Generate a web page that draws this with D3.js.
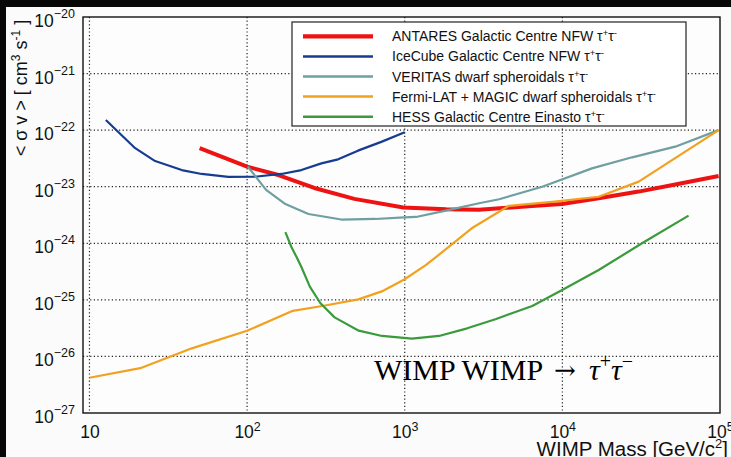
<!DOCTYPE html>
<html>
<head>
<meta charset="utf-8">
<script src="https://cdn.jsdelivr.net/npm/d3@7"></script>
<style>
  html, body { margin: 0; padding: 0; background: #070707; }
  svg { display: block; }
</style>
</head>
<body>
<svg id="chart" width="731" height="457"></svg>
<script>
// WIMP annihilation limits, tau+ tau- channel (mass in GeV, <σv> in cm^3 s^-1)
const antaresMass = [50, 100, 158, 267, 479, 980, 1830, 2960, 6420, 9930, 17000, 30500, 57100, 98000];
const antaresSv   = [4.8e-23, 2.26e-23, 1.61e-23, 9.5e-24, 6.1e-24, 4.3e-24, 4.0e-24, 3.9e-24, 4.56e-24, 4.94e-24, 6.24e-24, 8.2e-24, 1.15e-23, 1.55e-23];

const icecubeMass = [12.7, 19.5, 26.1, 38.5, 51.5, 76, 112, 165, 221, 296, 378, 505, 710, 1000];
const icecubeSv   = [1.51e-22, 4.8e-23, 2.84e-23, 1.97e-23, 1.68e-23, 1.49e-23, 1.5e-23, 1.68e-23, 1.97e-23, 2.59e-23, 3.05e-23, 4.34e-23, 6.2e-23, 9.2e-23];

const veritasMass = [101, 132, 175, 245, 396, 650, 993, 1180, 1820, 2960, 3970, 7450, 15400, 27700, 52000, 98000];
const veritasSv   = [2.28e-23, 8.8e-24, 4.94e-24, 3.29e-24, 2.63e-24, 2.69e-24, 2.86e-24, 2.92e-24, 3.77e-24, 5.1e-24, 6.0e-24, 1.0e-23, 2.11e-23, 3.31e-23, 5.1e-23, 1.0e-22];

const fermiMass = [10, 21, 44.6, 100, 195, 300, 508, 715, 993, 1360, 1910, 2660, 4580, 8610, 17000, 30500, 98000];
const fermiSv   = [4.2e-27, 6.2e-27, 1.39e-26, 2.85e-26, 6.4e-26, 7.8e-26, 1.02e-25, 1.41e-25, 2.29e-25, 4.1e-25, 8.7e-25, 1.84e-24, 4.6e-24, 5.4e-24, 6.65e-24, 1.23e-23, 1.0e-22];

const hessMass = [175, 191, 206, 221, 250, 292, 359, 511, 718, 1110, 1650, 2490, 3800, 6440, 9970, 17000, 32000, 63200];
const hessSv   = [1.58e-24, 8.6e-25, 5.7e-25, 3.8e-25, 1.71e-25, 8.7e-26, 4.9e-26, 2.85e-26, 2.3e-26, 2.07e-26, 2.3e-26, 3.14e-26, 4.6e-26, 7.8e-26, 1.49e-25, 3.37e-25, 1.0e-24, 3.08e-24];

const seriesNames = [
  "ANTARES Galactic Centre NFW",
  "IceCube Galactic Centre NFW",
  "VERITAS dwarf spheroidals",
  "Fermi-LAT + MAGIC dwarf spheroidals",
  "HESS Galactic Centre Einasto"
];
const seriesColors = ["#ee1212", "#163c92", "#6f9fa0", "#f2a11e", "#3b9a3c"];
const seriesWidths = [4, 2.2, 2.2, 2.2, 2.2];

const xTickValues = [10, 100, 1000, 10000, 100000];
const xTickLabels = ["10", "10^2", "10^3", "10^4", "10^5"];
const yTickValues = [1e-27, 1e-26, 1e-25, 1e-24, 1e-23, 1e-22, 1e-21, 1e-20];
const yTickLabels = ["10^−27", "10^−26", "10^−25", "10^−24", "10^−23", "10^−22", "10^−21", "10^−20"];

const series = [
  d3.zip(antaresMass, antaresSv),
  d3.zip(icecubeMass, icecubeSv),
  d3.zip(veritasMass, veritasSv),
  d3.zip(fermiMass, fermiSv),
  d3.zip(hessMass, hessSv)
];

const plot = { left: 83, right: 720, top: 17, bottom: 413 };
const svg = d3.select("#chart");
const sans = "'Liberation Sans', Arial, Helvetica, sans-serif";
const serif = "'Liberation Serif', 'Times New Roman', serif";

const x = d3.scaleLog().domain([9.1, 1e5]).range([plot.left, plot.right]);
const y = d3.scaleLog().domain([1e-27, 1e-20]).range([plot.bottom, plot.top]);

// figure page (dark margin on the top and left edges)
svg.append("rect")
  .attr("x", 6).attr("y", 7).attr("width", 725).attr("height", 450)
  .attr("fill", "#fbfbfb");

// plot background
svg.append("rect")
  .attr("x", plot.left).attr("y", plot.top)
  .attr("width", plot.right - plot.left).attr("height", plot.bottom - plot.top)
  .attr("fill", "#fdfdfd");

// dotted decade grid
const grid = svg.append("g").attr("stroke", "#222").attr("stroke-width", 1.2)
  .attr("stroke-dasharray", "1.2,2.4");
grid.selectAll("line.gx").data(xTickValues.filter(v => x(v) < plot.right - 2))
  .join("line").attr("class", "gx")
  .attr("x1", d => x(d)).attr("x2", d => x(d))
  .attr("y1", plot.top).attr("y2", plot.bottom);
grid.selectAll("line.gy").data(yTickValues.filter(v => y(v) > plot.top + 2 && y(v) < plot.bottom - 2))
  .join("line").attr("class", "gy")
  .attr("x1", plot.left).attr("x2", plot.right)
  .attr("y1", d => y(d)).attr("y2", d => y(d));

// curves
svg.append("clipPath").attr("id", "clip").append("rect")
  .attr("x", plot.left).attr("y", plot.top)
  .attr("width", plot.right - plot.left).attr("height", plot.bottom - plot.top);

const line = d3.line().x(d => x(d[0])).y(d => y(d[1]));
svg.append("g").attr("clip-path", "url(#clip)")
  .selectAll("path").data(series).join("path")
  .attr("d", line)
  .attr("fill", "none")
  .attr("stroke", (d, i) => seriesColors[i])
  .attr("stroke-width", (d, i) => seriesWidths[i])
  .attr("stroke-linejoin", "round")
  .attr("stroke-linecap", "butt");

// frame
svg.append("rect")
  .attr("x", plot.left).attr("y", plot.top)
  .attr("width", plot.right - plot.left).attr("height", plot.bottom - plot.top)
  .attr("fill", "none").attr("stroke", "#111").attr("stroke-width", 1.4);

// power-of-ten label helper: "10^e" -> 10 with raised exponent
function powerLabel(sel, label, baseSize, expSize, rise) {
  const parts = label.split("^");
  sel.append("tspan").attr("font-size", baseSize).text(parts[0]);
  if (parts.length > 1) {
    sel.append("tspan").attr("font-size", expSize).attr("dy", -rise).text(parts[1]);
  }
}

// x axis
const xAxis = svg.append("g")
  .attr("transform", `translate(0,${plot.bottom})`)
  .call(d3.axisBottom(x).tickValues(xTickValues).tickSize(0).tickFormat(""));
xAxis.select(".domain").remove();
xAxis.selectAll(".tick").append("text")
  .attr("y", 25).attr("text-anchor", "middle")
  .attr("font-family", sans).attr("fill", "#111")
  .each(function(d, i) { powerLabel(d3.select(this), xTickLabels[i], 17.5, 12.5, 7); });

// y axis
const yAxis = svg.append("g")
  .attr("transform", `translate(${plot.left},0)`)
  .call(d3.axisLeft(y).tickValues(yTickValues).tickSize(0).tickFormat(""));
yAxis.select(".domain").remove();
yAxis.selectAll(".tick").append("text")
  .attr("x", -8).attr("y", 9.5).attr("text-anchor", "end")
  .attr("font-family", sans).attr("fill", "#111")
  .each(function(d, i) { powerLabel(d3.select(this), yTickLabels[i], 17.5, 12.5, 9); });

// axis titles
const xTitle = svg.append("text")
  .attr("x", 728).attr("y", 456).attr("text-anchor", "end")
  .attr("font-family", sans).attr("font-size", 20.5).attr("fill", "#111");
xTitle.append("tspan").text("WIMP Mass [GeV/c");
xTitle.append("tspan").attr("font-size", 13).attr("dy", -8).text("2");
xTitle.append("tspan").attr("dy", 8).text("]");

const yTitle = svg.append("text")
  .attr("transform", "translate(27,88) rotate(-90)")
  .attr("text-anchor", "middle")
  .attr("font-family", sans).attr("font-size", 18).attr("fill", "#111");
yTitle.append("tspan").text("< σ v > [ cm");
yTitle.append("tspan").attr("font-size", 12).attr("dy", -7).text("3");
yTitle.append("tspan").attr("dy", 7).text(" s");
yTitle.append("tspan").attr("font-size", 12).attr("dy", -7).text("-1");
yTitle.append("tspan").attr("dy", 7).text(" ]");

// legend
const legend = svg.append("g");
legend.append("rect")
  .attr("x", 292).attr("y", 22).attr("width", 394).attr("height", 104)
  .attr("fill", "#fff").attr("stroke", "#222").attr("stroke-width", 1.2);
const rows = legend.selectAll("g.row").data(seriesNames).join("g")
  .attr("class", "row")
  .attr("transform", (d, i) => `translate(0,${36.3 + i * 20.1})`);
rows.append("line")
  .attr("x1", 303).attr("x2", 373).attr("y1", 0).attr("y2", 0)
  .attr("stroke", (d, i) => seriesColors[i])
  .attr("stroke-width", (d, i) => seriesWidths[i] + 0.3);
const rowText = rows.append("text")
  .attr("x", 392).attr("y", 5)
  .attr("font-family", sans).attr("font-size", 14).attr("fill", "#111");
rowText.append("tspan").text(d => d + " τ");
rowText.append("tspan").attr("font-size", 9.5).attr("dy", -5).text("+");
rowText.append("tspan").attr("dy", 5).text("τ");
rowText.append("tspan").attr("font-size", 9.5).attr("dy", -5).text("-");

// channel annotation
const note = svg.append("text")
  .attr("y", 380)
  .attr("font-family", serif).attr("font-size", 30).attr("fill", "#000");
note.append("tspan").attr("x", 374).text("WIMP WIMP");
note.append("tspan").attr("x", 554).attr("font-family", "'DejaVu Serif', serif")
  .attr("font-size", 26).attr("dy", -1).text("→");
note.append("tspan").attr("x", 589).attr("dy", 1).attr("font-style", "italic").text("τ");
note.append("tspan").attr("font-size", 20).attr("dy", -12).text("+");
note.append("tspan").attr("dy", 12).attr("font-style", "italic").text("τ");
note.append("tspan").attr("font-size", 20).attr("dy", -12).text("−");
</script>
</body>
</html>
